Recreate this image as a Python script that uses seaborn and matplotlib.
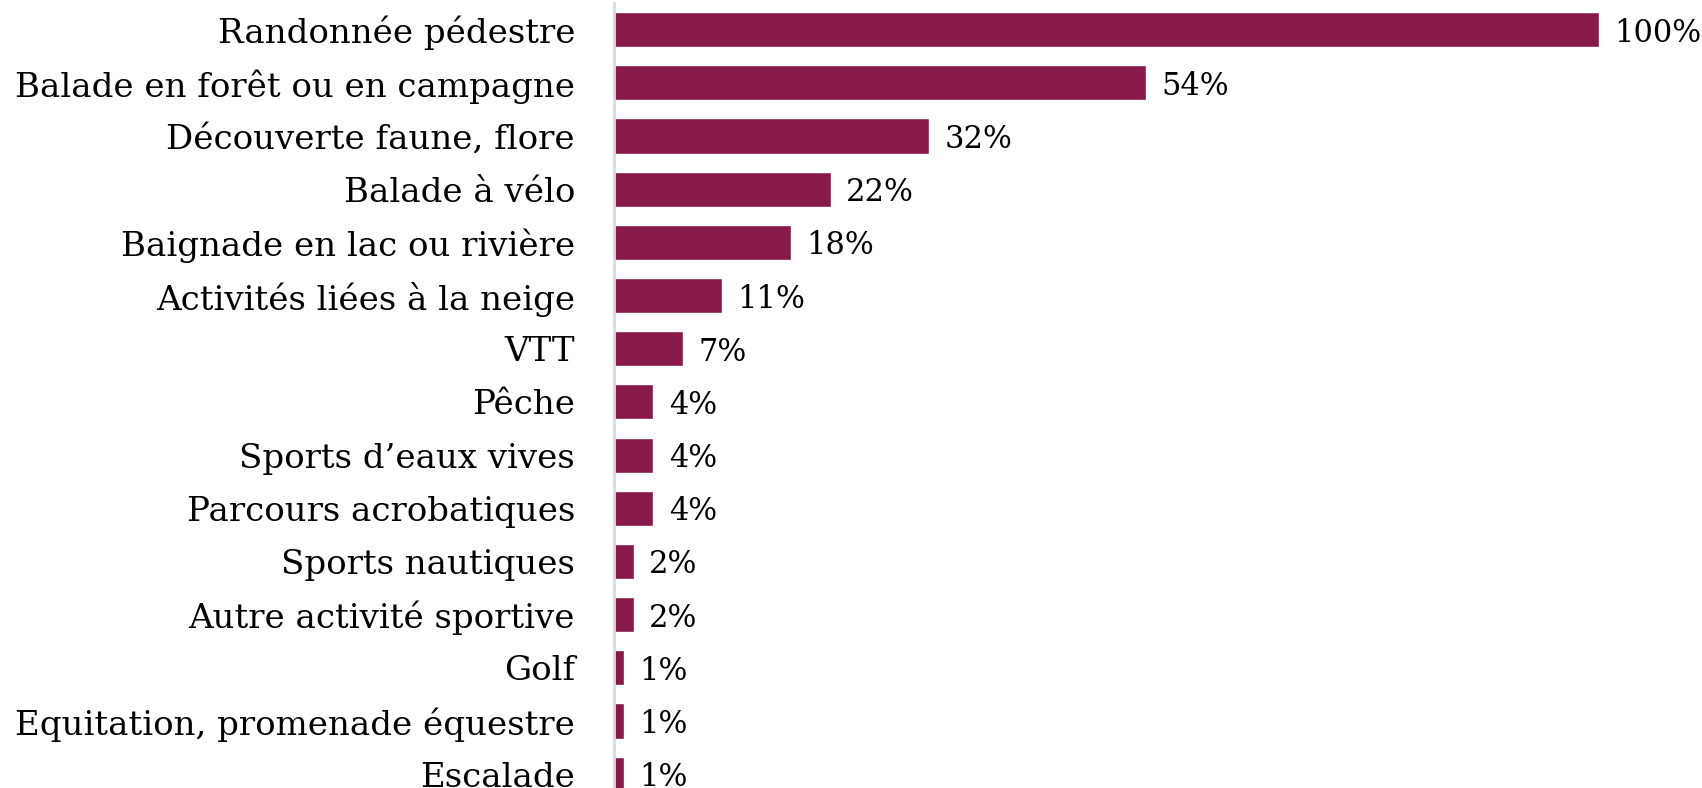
import matplotlib
matplotlib.use("Agg")
import matplotlib.pyplot as plt
import pandas as pd
import seaborn as sns

# Data
activities = [
    "Randonnée pédestre",
    "Balade en forêt ou en campagne",
    "Découverte faune, flore",
    "Balade à vélo",
    "Baignade en lac ou rivière",
    "Activités liées à la neige",
    "VTT",
    "Pêche",
    "Sports d’eaux vives",
    "Parcours acrobatiques",
    "Sports nautiques",
    "Autre activité sportive",
    "Golf",
    "Equitation, promenade équestre",
    "Escalade",
]
shares = [100, 54, 32, 22, 18, 11, 7, 4, 4, 4, 2, 2, 1, 1, 1]

BAR_COLOR = "#881a49"

df = pd.DataFrame({"activity": activities, "share": shares})

sns.set_theme(style="white")
plt.rcParams["font.family"] = ["DejaVu Serif", "DejaVu Sans"]

fig = plt.figure(figsize=(17.02, 7.88), dpi=100)
ax = fig.add_axes([614 / 1702, 0.0, (1599 - 614) / 1702, 785 / 788])

sns.barplot(data=df, x="share", y="activity", orient="h", color=BAR_COLOR,
            saturation=1, width=0.66, ax=ax)

ax.set_xlim(0, 100)
ax.set_ylim(14.26, -0.5)

labels = ax.bar_label(ax.containers[0], labels=[f"{v}%" for v in shares],
                      padding=11, fontsize=22, color="black")
for t in labels:
    # nudge the value labels a touch lower, like the reference
    t.set_verticalalignment("center_baseline")

ax.set_xlabel("")
ax.set_ylabel("")
ax.set_xticks([])
ax.tick_params(axis="y", length=0, pad=28, labelsize=24.5)
for lab in ax.get_yticklabels():
    lab.set_color("black")

for side in ["top", "right", "bottom"]:
    ax.spines[side].set_visible(False)
ax.spines["left"].set_color("#d9d9d9")
ax.spines["left"].set_linewidth(2)

fig.savefig("out.png", dpi=100)
